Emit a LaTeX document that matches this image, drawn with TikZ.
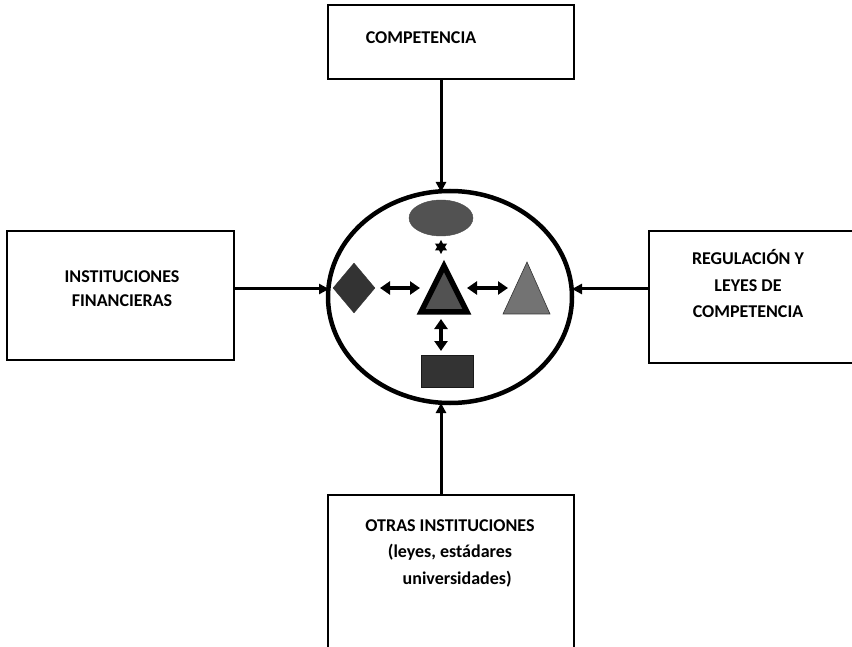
\documentclass[tikz,border=0pt]{standalone}
\usepackage{fontspec}
\setmainfont{Carlito}
\usetikzlibrary{arrows.meta,shapes.geometric}
\begin{document}
\begin{tikzpicture}[x=1pt,y=-1pt,
  box/.style={draw=black,line width=2pt,fill=white,inner sep=0pt},
  lbl/.style={font=\bfseries\fontsize{18}{26.5}\selectfont,align=center,inner sep=0pt},
  conn/.style={line width=3pt,-{Triangle[length=10pt,width=10pt]}},
  dbl/.style={line width=3.2pt,{Triangle[length=10pt,width=13pt]}-{Triangle[length=10pt,width=13pt]}}]
\useasboundingbox (0,0) rectangle (852,647);
\fill[white] (0,0) rectangle (852,647);
% boxes
\node[box,minimum width=246pt,minimum height=74pt] (top) at (451,42) {};
\node[box,minimum width=227pt,minimum height=129pt] (left) at (120.5,295.5) {};
\node[box,minimum width=215pt,minimum height=132pt] (right) at (756.5,297) {};
\node[box,minimum width=246pt,minimum height=170pt] (bottom) at (451,580) {};
% texts
\node[lbl] (ttop) at (421,38) {COMPETENCIA};
\node[lbl,font=\bfseries\fontsize{18}{24}\selectfont] (tleft) at (122,289) {INSTITUCIONES\\FINANCIERAS};
\node[lbl] (tright) at (748,284) {REGULACIÓN Y\\LEYES DE\\COMPETENCIA};
\node[lbl,align=center] (tbottom) at (450,553) {OTRAS INSTITUCIONES\\(leyes, estádares\\\hspace*{0.8em}universidades)};
% big ellipse
\node[draw=black,line width=4.5pt,ellipse,minimum width=244pt,minimum height=212pt,inner sep=0pt] (circ) at (450,297) {};
% connectors
\draw[conn] (top.south -| 441,0) -- (441,192) coordinate (ctop);
\draw[conn] (left.east |- 0,289) -- (329,289) coordinate (cleft);
\draw[conn] (right.west |- 0,289) -- (572,289) coordinate (cright);
\draw[conn] (bottom.north -| 441,0) -- (441,403) coordinate (cbot);
% inner shapes
\node[ellipse,draw=black!70,fill=black!68,minimum width=64pt,minimum height=36pt,inner sep=0pt] (oval) at (441,218) {};
\node[star,star points=6,star point ratio=1.8,fill=black,minimum size=14pt,inner sep=0pt] (star) at (441,247) {};
\node[diamond,draw=black!80,fill=black!80,minimum width=42pt,minimum height=50pt,inner sep=0pt] (dia) at (354,288) {};
\draw[line width=5.5pt,fill=black!68,line join=miter] (444,266) coordinate (tapex) -- (467,312) -- (421,312) -- cycle;
\coordinate (tri) at (444,292);
\draw[draw=black!80,line width=0.6pt,fill=black!55] (527,262) -- (550,314) -- (503,314) -- cycle;
\coordinate (rtri) at (527,290);
\node[draw=black!90,fill=black!80,minimum width=52pt,minimum height=32pt,inner sep=0pt] (rect) at (447,371) {};
% double arrows
\draw[dbl] (380,288) -- (420,288);
\draw[dbl] (467,288) -- (508,288);
\draw[dbl] (441,319) -- (441,351);
\end{tikzpicture}
\end{document}
